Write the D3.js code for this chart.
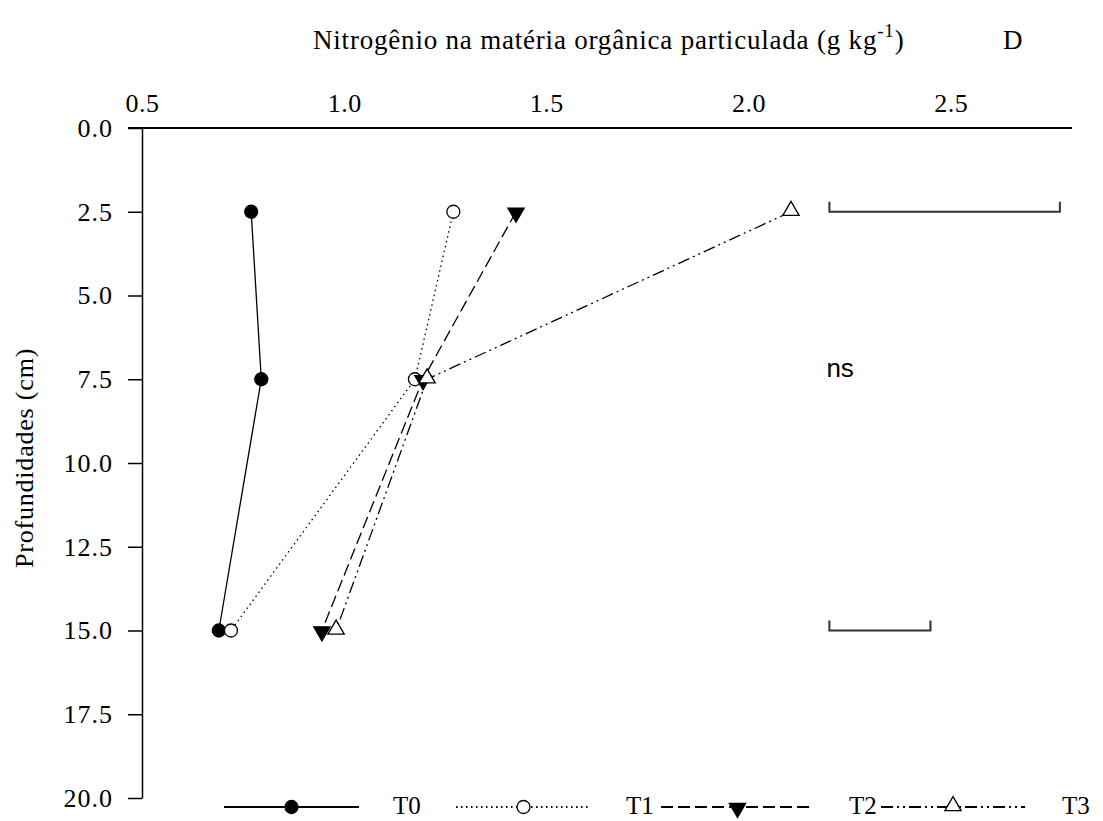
<!DOCTYPE html>
<html>
<head>
<meta charset="utf-8">
<script src="https://cdn.jsdelivr.net/npm/d3@7"></script>
<style>
  body { margin: 0; background: #fff; }
  svg { display: block; }
</style>
</head>
<body>
<div class="canva"></div>
<script>
// depths (cm) and N in particulate organic matter (g kg-1)
const depths = [2.5, 7.5, 15];
const t0 = [0.77, 0.795, 0.69];
const t1 = [1.27, 1.175, 0.72];
const t2 = [1.425, 1.195, 0.945];
const t3 = [2.105, 1.205, 0.98];
const seriesNames = ["T0", "T1", "T2", "T3"];

// LSD bars: start at x = 2.2, length by depth
const lsdDepths = [2.5, 15];
const lsdLengths = [0.57, 0.25];

const xTicks = [0.5, 1.0, 1.5, 2.0, 2.5];
const yTicks = [0, 2.5, 5, 7.5, 10, 12.5, 15, 17.5, 20];

const W = 1103, H = 821;
const svg = d3.select(".canva").append("svg")
  .attr("width", W).attr("height", H);

const x = d3.scaleLinear().domain([0.5, 2.8]).range([142, 1072]);
const y = d3.scaleLinear().domain([0, 20]).range([128, 798]);

const serif = "'Liberation Serif', 'Times New Roman', serif";

// top axis: line + labels, no tick marks
const xAxis = d3.axisTop(x).tickValues(xTicks).tickFormat(d3.format(".1f"))
  .tickSize(0).tickPadding(16);
const gx = svg.append("g").attr("transform", `translate(0,${y(0)})`).call(xAxis);
gx.select(".domain").remove();
gx.selectAll("text").attr("font-family", serif).attr("font-size", 26)
  .attr("letter-spacing", 0.5).attr("fill", "#000");
svg.append("line").attr("x1", 128).attr("x2", 1072)
  .attr("y1", y(0)).attr("y2", y(0)).attr("stroke", "#000").attr("stroke-width", 2);

// left axis
const yAxis = d3.axisLeft(y).tickValues(yTicks).tickFormat(d3.format(".1f"))
  .tickSize(14).tickSizeOuter(0).tickPadding(15);
const gy = svg.append("g").attr("transform", `translate(${x(0.5)},0)`).call(yAxis);
gy.select(".domain").attr("stroke-width", 1.5);
gy.selectAll(".tick line").attr("stroke-width", 1.5);
gy.selectAll("text").attr("font-family", serif).attr("font-size", 26)
  .attr("letter-spacing", 1).attr("fill", "#000");

// titles
const title = svg.append("text").attr("x", 313).attr("y", 49)
  .attr("font-family", serif).attr("font-size", 27).attr("letter-spacing", 0.8);
title.append("tspan").text("Nitrogênio na matéria orgânica particulada (g kg");
title.append("tspan").attr("dy", -12).attr("font-size", 19).text("-1");
title.append("tspan").attr("dy", 12).text(")");
svg.append("text").attr("x", 1003).attr("y", 49)
  .attr("font-family", serif).attr("font-size", 27).text("D");
svg.append("text")
  .attr("transform", `translate(33,${y(9.85)}) rotate(-90)`)
  .attr("text-anchor", "middle")
  .attr("font-family", serif).attr("font-size", 26).attr("letter-spacing", 0.8)
  .text("Profundidades (cm)");

const styles = [
  { dash: null, marker: "circle", fill: "#000" },
  { dash: "1.5,3.5", marker: "circle", fill: "#fff" },
  { dash: "12,5", marker: "down", fill: "#000" },
  { dash: "12,4,2,4,2,4", marker: "up", fill: "#fff" }
];
const allSeries = [t0, t1, t2, t3];

const line = d3.line().x(d => x(d[0])).y(d => y(d[1]));

function drawMarker(g, type, cx, cy, fill) {
  if (type === "circle") {
    g.append("circle").attr("cx", cx).attr("cy", cy).attr("r", 6.5)
      .attr("fill", fill).attr("stroke", "#000").attr("stroke-width", 1.3);
  } else {
    const sym = d3.symbol().type(d3.symbolTriangle).size(115)();
    g.append("path").attr("d", sym)
      .attr("transform", `translate(${cx},${cy + (type === "down" ? 1 : -1)}) rotate(${type === "down" ? 180 : 0})`)
      .attr("fill", fill).attr("stroke", "#000").attr("stroke-width", 1.3);
  }
}

allSeries.forEach((vals, i) => {
  const pts = vals.map((v, j) => [v, depths[j]]);
  svg.append("path").attr("d", line(pts))
    .attr("fill", "none").attr("stroke", "#000").attr("stroke-width", 1.3)
    .attr("stroke-dasharray", styles[i].dash);
});
allSeries.forEach((vals, i) => {
  const g = svg.append("g");
  vals.forEach((v, j) => drawMarker(g, styles[i].marker, x(v), y(depths[j]), styles[i].fill));
});

// LSD bars
lsdDepths.forEach((d, i) => {
  const x1 = x(2.2), x2 = x(2.2 + lsdLengths[i]), yy = y(d);
  svg.append("path")
    .attr("d", `M${x1},${yy - 10}V${yy}H${x2}V${yy - 10}`)
    .attr("fill", "none").attr("stroke", "#333").attr("stroke-width", 2);
});
svg.append("text").attr("x", x(2.2) - 3).attr("y", 377)
  .attr("font-family", "'Liberation Sans', Arial, sans-serif").attr("font-size", 26)
  .text("ns");

// legend
const legY = 807;
const legX = [224, 456, 661, 881];
const legW = [135, 135, 153, 144];
const legText = [393, 626, 849, 1062];
seriesNames.forEach((name, i) => {
  const g = svg.append("g");
  g.append("line").attr("x1", legX[i]).attr("x2", legX[i] + legW[i])
    .attr("y1", legY).attr("y2", legY)
    .attr("stroke", "#000").attr("stroke-width", 2)
    .attr("stroke-dasharray", styles[i].dash);
  drawMarker(g, styles[i].marker, legX[i] + legW[i] / 2, legY, styles[i].fill);
  g.append("text").attr("x", legText[i]).attr("y", legY + 7)
    .attr("font-family", serif).attr("font-size", 25).text(name);
});
</script>
</body>
</html>
